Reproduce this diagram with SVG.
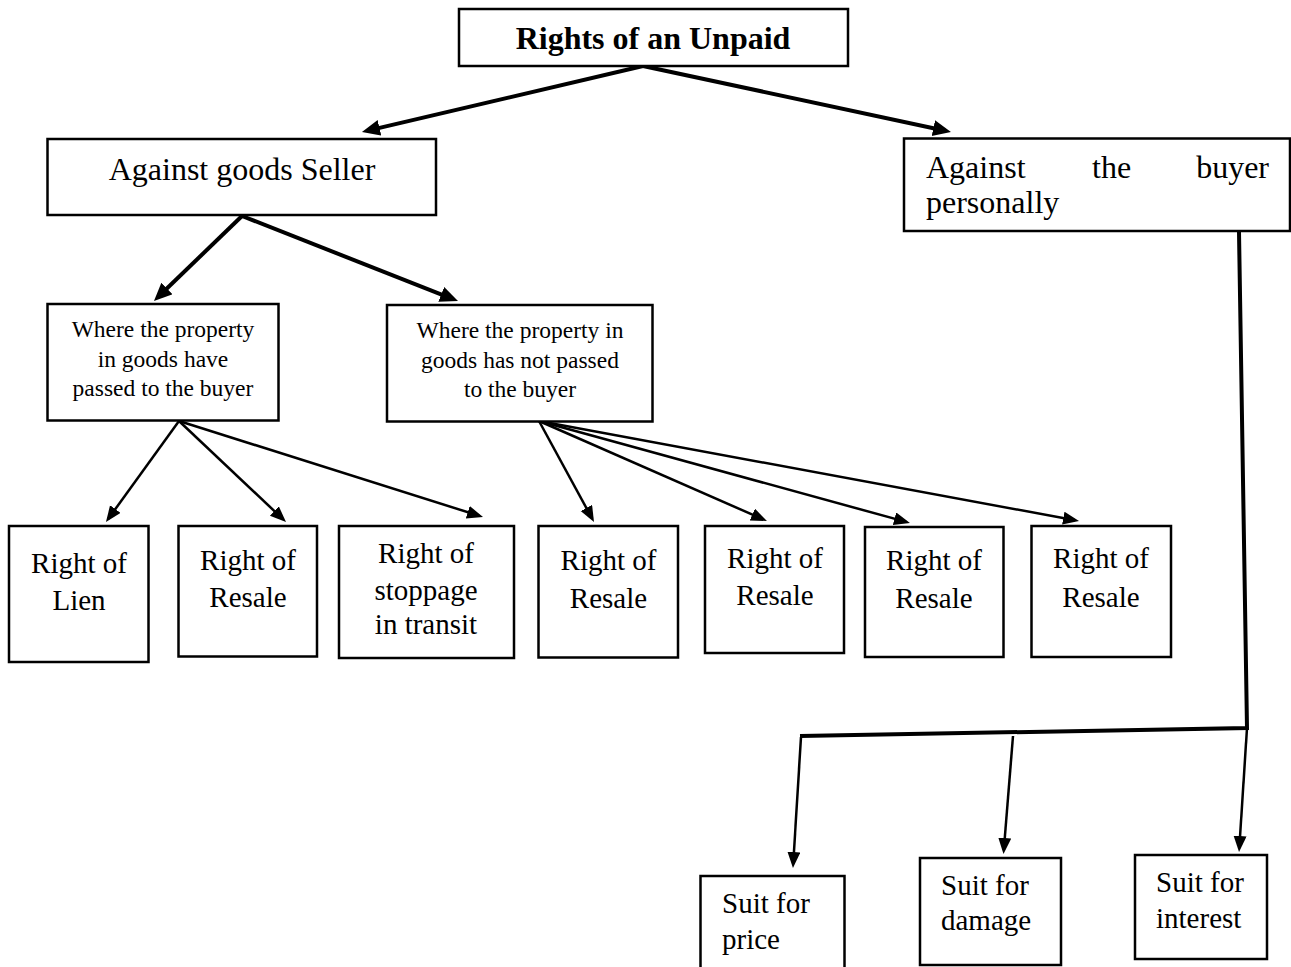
<svg xmlns="http://www.w3.org/2000/svg" width="1291" height="967" viewBox="0 0 1291 967">
<style>
.box{fill:#fff;stroke:#000;stroke-width:2.5}
.t{font-family:"Liberation Serif","Times New Roman",serif;fill:#000}
.big{font-size:32px}
.mid{font-size:29px}
.sm{font-size:23.5px}
.c{text-anchor:middle}
.thick{stroke:#000;stroke-width:4;fill:none}
.thin{stroke:#000;stroke-width:2.5;fill:none}
</style>
<defs>
<marker id="ah" markerUnits="userSpaceOnUse" markerWidth="20" markerHeight="18" refX="12" refY="8" orient="auto">
<path d="M0,0 L18,8 L0,16 z" fill="#000"/>
</marker>
<marker id="as" markerUnits="userSpaceOnUse" markerWidth="18" markerHeight="15" refX="12" refY="6.5" orient="auto">
<path d="M0,0 L16,6.5 L0,13 z" fill="#000"/>
</marker>
</defs>
<rect width="1291" height="967" fill="#fff"/>
<g id="connectors">
<line class="thick" x1="643" y1="66" x2="367.8" y2="130.6" marker-end="url(#ah)"/>
<line class="thick" x1="643" y1="66" x2="945.1" y2="130.7" marker-end="url(#ah)"/>
<line class="thick" x1="242" y1="216" x2="158.3" y2="296.8" marker-end="url(#ah)"/>
<line class="thick" x1="242" y1="216" x2="452.4" y2="298.8" marker-end="url(#ah)"/>
<line class="thin" x1="179" y1="421" x2="108.3" y2="518.8" marker-end="url(#as)"/>
<line class="thin" x1="179" y1="421" x2="283.1" y2="519.3" marker-end="url(#as)"/>
<line class="thin" x1="179" y1="421" x2="479.2" y2="515.8" marker-end="url(#as)"/>
<line class="thin" x1="539" y1="421" x2="592.1" y2="518.5" marker-end="url(#as)"/>
<line class="thin" x1="539" y1="421" x2="763.3" y2="519.4" marker-end="url(#as)"/>
<line class="thin" x1="539" y1="421" x2="906.1" y2="521.9" marker-end="url(#as)"/>
<line class="thin" x1="539" y1="421" x2="1075.1" y2="520.3" marker-end="url(#as)"/>
<polyline class="thick" points="1239,232 1247,728 800,736"/>
<line class="thin" x1="801" y1="737" x2="793.2" y2="864" marker-end="url(#as)"/>
<line class="thin" x1="1013" y1="736" x2="1003.8" y2="850" marker-end="url(#as)"/>
<line class="thin" x1="1247" y1="728" x2="1239.3" y2="848" marker-end="url(#as)"/>
</g>
<g id="root">
<rect class="box" x="459" y="9" width="389" height="57"/>
<text class="t c" x="653" y="49" font-size="32" font-weight="bold">Rights of an Unpaid</text>
</g>
<g id="goods">
<rect class="box" x="47.5" y="139" width="388.5" height="76"/>
<text class="t big c" x="242" y="180">Against goods Seller</text>
</g>
<g id="buyer">
<rect class="box" x="904" y="138.5" width="386" height="92.5"/>
<text class="t big" x="926" y="178">Against</text>
<text class="t big" x="1092" y="178">the</text>
<text class="t big" x="1269" y="178" text-anchor="end">buyer</text>
<text class="t big" x="926" y="213">personally</text>
</g>
<g id="passed">
<rect class="box" x="47.5" y="304" width="231" height="116.5"/>
<text class="t sm c" x="163" y="337">Where the property</text>
<text class="t sm c" x="163" y="367">in goods have</text>
<text class="t sm c" x="163" y="396">passed to the buyer</text>
</g>
<g id="notpassed">
<rect class="box" x="387" y="305" width="265.5" height="116.5"/>
<text class="t sm c" x="520" y="338">Where the property in</text>
<text class="t sm c" x="520" y="368">goods has not passed</text>
<text class="t sm c" x="520" y="397">to the buyer</text>
</g>
<g id="lien">
<rect class="box" x="9" y="526" width="139.5" height="136"/>
<text class="t mid c" x="79" y="573">Right of</text>
<text class="t mid c" x="79" y="610">Lien</text>
</g>
<g id="resale1">
<rect class="box" x="178.5" y="526" width="138.5" height="130.5"/>
<text class="t mid c" x="248" y="570">Right of</text>
<text class="t mid c" x="248" y="607">Resale</text>
</g>
<g id="stoppage">
<rect class="box" x="339" y="526" width="175" height="132"/>
<text class="t mid c" x="426" y="563">Right of</text>
<text class="t mid c" x="426" y="600">stoppage</text>
<text class="t mid c" x="426" y="634">in transit</text>
</g>
<g id="resale2">
<rect class="box" x="538.5" y="526" width="139.5" height="131.5"/>
<text class="t mid c" x="608.5" y="570">Right of</text>
<text class="t mid c" x="608.5" y="608">Resale</text>
</g>
<g id="resale3">
<rect class="box" x="705" y="526" width="139" height="127"/>
<text class="t mid c" x="775" y="568">Right of</text>
<text class="t mid c" x="775" y="605">Resale</text>
</g>
<g id="resale4">
<rect class="box" x="865" y="527" width="138.5" height="130"/>
<text class="t mid c" x="934" y="570">Right of</text>
<text class="t mid c" x="934" y="608">Resale</text>
</g>
<g id="resale5">
<rect class="box" x="1031.5" y="526" width="139.5" height="131"/>
<text class="t mid c" x="1101" y="568">Right of</text>
<text class="t mid c" x="1101" y="607">Resale</text>
</g>
<g id="price">
<rect class="box" x="700.5" y="876" width="144" height="96"/>
<text class="t mid" x="722" y="913">Suit for</text>
<text class="t mid" x="722" y="949">price</text>
</g>
<g id="damage">
<rect class="box" x="920" y="858" width="141" height="107"/>
<text class="t mid" x="941" y="895">Suit for</text>
<text class="t mid" x="941" y="930">damage</text>
</g>
<g id="interest">
<rect class="box" x="1135" y="855" width="132" height="104"/>
<text class="t mid" x="1156" y="892">Suit for</text>
<text class="t mid" x="1156" y="928">interest</text>
</g>
</svg>
